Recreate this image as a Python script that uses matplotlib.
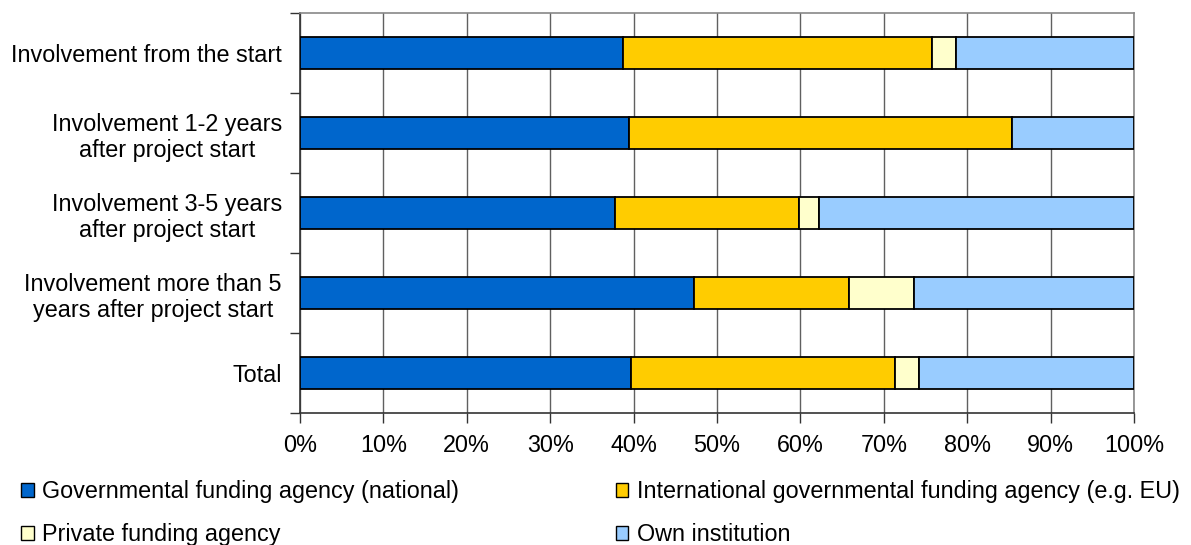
import numpy as np
import matplotlib.pyplot as plt
from matplotlib.patches import Patch
from matplotlib.ticker import FixedLocator

plt.rcParams['font.family'] = ['Liberation Sans', 'DejaVu Sans']

categories = ["Involvement from the start",
              "Involvement 1-2 years\nafter project start",
              "Involvement 3-5 years\nafter project start",
              "Involvement more than 5\nyears after project start",
              "Total"]
gov = [38.7, 39.4, 37.8, 47.3, 39.7]
intl = [37.1, 46.0, 22.0, 18.5, 31.7]
private = [2.9, 0.0, 2.4, 7.8, 2.8]
own = [100 - a - b - c for a, b, c in zip(gov, intl, private)]

series = ["Governmental funding agency (national)",
          "International governmental funding agency (e.g. EU)",
          "Private funding agency",
          "Own institution"]
colors = ["#0066CC", "#FFCC00", "#FFFFCC", "#99CCFF"]

fig = plt.figure(figsize=(11.91, 5.45), dpi=100)
ax = fig.add_axes([0.2519, 0.242, 0.7002, 0.734])

y = np.arange(len(categories))
left = np.zeros(len(categories))
for vals, col in zip([gov, intl, private, own], colors):
    ax.barh(y, vals, left=left, height=0.4, color=col, edgecolor='black',
            linewidth=1.3, zorder=3)
    left += np.array(vals)

ax.set_xlim(0, 100)
ax.set_ylim(len(categories) - 0.5, -0.5)
ax.set_xticks(np.arange(0, 101, 10))
ax.set_xticklabels([f"{v}%" for v in range(0, 101, 10)], fontsize=16.8)
ax.set_yticks(y)
ax.set_yticklabels(categories, fontsize=16.8, multialignment='center')
ax.yaxis.set_minor_locator(FixedLocator(np.arange(-0.5, len(categories), 1)))
ax.tick_params(axis='y', which='major', length=0, pad=13)
ax.tick_params(axis='y', which='minor', length=7, width=1, color='#333333')
ax.tick_params(axis='x', length=7, width=1, color='#333333', pad=8)

ax.grid(axis='x', color='#606060', linewidth=1, zorder=0)
for s in ['top', 'right']:
    ax.spines[s].set_color('#888888')
    ax.spines[s].set_linewidth(1.2)
for s in ['left', 'bottom']:
    ax.spines[s].set_color('#333333')
    ax.spines[s].set_linewidth(1.2)

handles = [Patch(facecolor=c, edgecolor='black', linewidth=1) for c in colors]
order = [0, 2, 1, 3]
fig.legend([handles[i] for i in order], [series[i] for i in order],
           ncol=2, loc='upper left', bbox_to_anchor=(0.0, 0.157),
           frameon=False, fontsize=16.8, handlelength=0.55, handleheight=0.55,
           handletextpad=0.36, columnspacing=6.7, labelspacing=0.85)

fig.savefig("out.png", dpi=100)
